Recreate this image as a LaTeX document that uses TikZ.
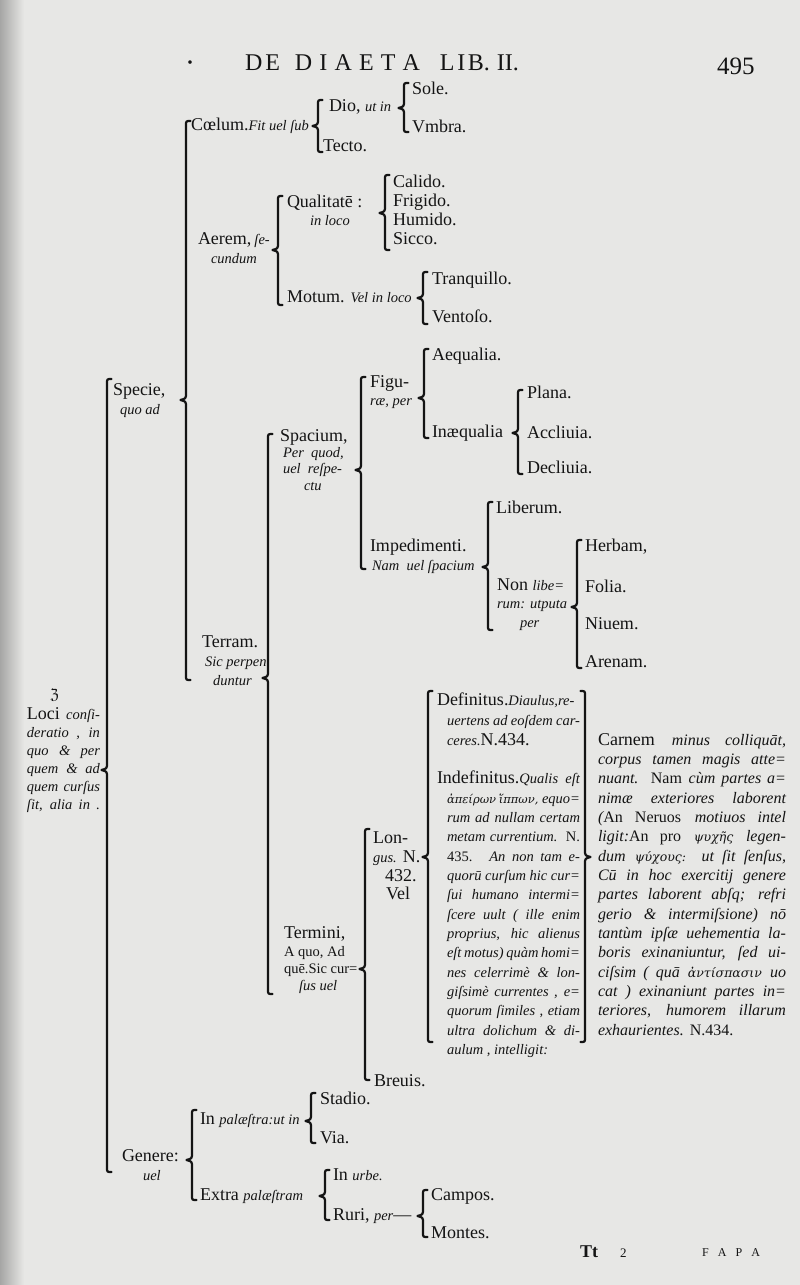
\documentclass[tikz,border=0pt]{standalone}
\usepackage{fontspec}
\setmainfont{Liberation Serif}
\newfontfamily\grk{DejaVu Serif}
\newfontfamily\symfont{DejaVu Sans}
\definecolor{ink}{RGB}{20,20,20}
\definecolor{paper}{RGB}{231,231,229}
\newcommand\fR{\fontsize{18}{19}\selectfont}
\newcommand\itx[1]{{\fontsize{14.5}{16}\selectfont\itshape #1}}
\newcommand\rmx[1]{{\fontsize{14.5}{16}\selectfont\upshape #1}}
\newcommand\itc[1]{{\fontsize{16}{17}\selectfont\itshape #1}}
\newcommand\rmc[1]{{\fontsize{16}{17}\selectfont\upshape #1}}
\newcommand\gk[1]{{\grk\itshape\fontsize{11.5}{14}\selectfont #1}}
\newcommand\gkc[1]{{\grk\itshape\fontsize{12.5}{14}\selectfont #1}}
\newcommand\jl[2]{\makebox[#1pt][s]{#2}}
\newcommand\braceL[4]{\draw[brc] ({#1+4.5},#2) .. controls (#1,#2) .. (#1,{#2+4.5}) -- (#1,{#4-7}) .. controls (#1,{#4-1.5}) .. ({#1-5.5},#4) .. controls (#1,{#4+1.5}) .. (#1,{#4+7}) -- (#1,{#3-4.5}) .. controls (#1,#3) .. ({#1+4.5},#3);}
\newcommand\braceR[4]{\draw[brc] ({#1-4.5},#2) .. controls (#1,#2) .. (#1,{#2+4.5}) -- (#1,{#4-7}) .. controls (#1,{#4-1.5}) .. ({#1+5.5},#4) .. controls (#1,{#4+1.5}) .. (#1,{#4+7}) -- (#1,{#3-4.5}) .. controls (#1,#3) .. ({#1-4.5},#3);}
\tikzset{
  R/.style={anchor=base west,inner sep=0pt,outer sep=0pt,font=\fR,text=ink},
  brc/.style={draw=ink,line width=2.2pt,line cap=round,line join=round}
}
\begin{document}
\begin{tikzpicture}[x=1pt,y=-1pt]
\fill[paper] (0,0) rectangle (800,1285);
\shade[left color=paper!72!black,right color=paper] (0,0) rectangle (24,1285);
\path[use as bounding box] (0,0) rectangle (800,1285);

% header
\node[R,font={\fontsize{30}{30}\selectfont}] (hdot) at (185,72) {·};
\node[R,font={\fontsize{24}{24}\selectfont}] (title) at (245,70) {\makebox[35pt][s]{D\hfil E}\hspace{15pt}\makebox[125pt][s]{D\hfil I\hfil A\hfil E\hfil T\hfil A}\hspace{20pt}\makebox[50pt][s]{L\hfil I\hfil B.}\hspace{7pt}\makebox[18pt][s]{I\hfil I.}};
\node[R,font={\fontsize{25}{26}\selectfont}] (pg) at (717,74) {495};

% Coelum
\node[R] (sole) at (412,94) {Sole.};
\node[R] (dio) at (329,111) {Dio, \itx{ut in}};
\node[R] (coelum) at (191,130) {Cœlum.\itx{Fit uel ſub}};
\node[R] (vmbra) at (412,132) {Vmbra.};
\node[R] (tecto) at (323,151) {Tecto.};
\braceL{404}{83}{132}{108}
\braceL{318}{100}{152}{126}

% Specie brace
\braceL{186}{121}{680}{400}

% Aerem
\node[R] (aerem) at (198,244) {Aerem,\,\itx{ſe-}};
\node[R] (cundum) at (211,263) {\itx{cundum}};
\braceL{278}{196}{305}{250}
\node[R] (qual) at (287,207) {Qualitatē :};
\node[R] (inloco) at (310,225) {\itx{in loco}};
\braceL{385}{175}{250}{213}
\node[R] (calido) at (393,187) {Calido.};
\node[R] (frigido) at (393,206) {Frigido.};
\node[R] (humido) at (393,225) {Humido.};
\node[R] (sicco) at (393,244) {Sicco.};
\node[R] (motum) at (287,302) {Motum. \itx{Vel in loco}};
\braceL{423}{272}{324}{298}
\node[R] (tranq) at (432,284) {Tranquillo.};
\node[R] (vento) at (432,322) {Ventoſo.};

% Specie + root
\node[R] (specie) at (113,395) {Specie,};
\node[R] (quoad) at (120,414) {\itx{quo ad}};
\braceL{107}{379}{1172}{770}

% Terram
\node[R] (terram) at (202,647) {Terram.};
\node[R] (sicperpen) at (205,666) {\itx{Sic perpen}};
\node[R] (duntur) at (213,685) {\itx{duntur}};
\braceL{268}{434}{994}{678}

% Spacium
\node[R] (spacium) at (280,441) {Spacium,};
\node[R] (perquod) at (283,457) {\itx{Per\ \ quod,}};
\node[R] (uelrespe) at (283,473) {\itx{uel\ \ reſpe-}};
\node[R] (ctu) at (304,490) {\itx{ctu}};
\braceL{361}{377}{569}{470}
\node[R] (figu) at (370,387) {Figu-};
\node[R] (raeper) at (370,405) {\itx{ræ, per}};
\braceL{424}{349}{438}{398}
\node[R] (aequalia) at (432,360) {Aequalia.};
\node[R] (inaeq) at (432,437) {Inæqualia};
\braceL{518}{390}{474}{433}
\node[R] (plana) at (527,398) {Plana.};
\node[R] (accl) at (527,438) {Accliuia.};
\node[R] (decl) at (527,473) {Decliuia.};

% Impedimenti
\node[R] (imped) at (370,551) {Impedimenti.};
\node[R] (namuel) at (372,570) {\itx{Nam\ \ uel ſpacium}};
\braceL{488}{502}{630}{567}
\node[R] (liberum) at (496,513) {Liberum.};
\node[R] (nonlibe) at (497,590) {Non \itx{libe=}};
\node[R] (rumut) at (497,608) {\itx{rum: utputa}};
\node[R] (per) at (520,627) {\itx{per}};
\braceL{577}{540}{668}{607}
\node[R] (herbam) at (585,551) {Herbam,};
\node[R] (folia) at (585,592) {Folia.};
\node[R] (niuem) at (585,629) {Niuem.};
\node[R] (arenam) at (585,667) {Arenam.};

% Loci
\node[R,font={\symfont\fontsize{14}{16}\selectfont}] (sym) at (50,699) {ℨ};
\node[R] (loci1) at (27,719) {\jl{73}{Loci \itx{conſi-}}};
\node[R] (loci2) at (27,737) {\jl{73}{\itx{deratio , in}}};
\node[R] (loci3) at (27,755) {\jl{73}{\itx{quo \& per}}};
\node[R] (loci4) at (27,773) {\jl{73}{\itx{quem \& ad}}};
\node[R] (loci5) at (27,791) {\jl{73}{\itx{quem curſus}}};
\node[R] (loci6) at (27,809) {\jl{73}{\itx{ſit, alia in .}}};

% Termini
\node[R] (termini) at (284,938) {Termini,};
\node[R] (aquo) at (284,956) {\rmx{A quo, Ad}};
\node[R] (que) at (284,973) {\rmx{quē.Sic cur=}};
\node[R] (susuel) at (299,990) {\itx{ſus uel}};
\braceL{365}{829}{1080}{969}
\node[R] (lon) at (373,843) {Lon-};
\node[R] (gus) at (373,862) {\itx{gus.} N.};
\node[R] (n432) at (385,881) {432.};
\node[R] (vel) at (386,899) {Vel};
\node[R] (breuis) at (374,1086) {Breuis.};

% Definitus column
\braceL{428}{691}{1042}{857}
\braceR{585}{691}{1042}{857}
\node[R] (d1) at (437,705) {\jl{143}{Definitus.\itx{Diaulus,re-}}};
\node[R] (d2) at (447,725) {\jl{133}{\itx{uertens ad eoſdem car-}}};
\node[R] (d3) at (447,745) {\itx{ceres.}N.434.};
\node[R] (i1) at (437,783.7) {\jl{143}{Indefinitus.\itx{Qualis eſt}}};
\node[R] (i2) at (447,803.05) {\jl{133}{\gk{ἀπείρων ἵππων,} \itx{equo=}}};
\node[R] (i3) at (447,822.4) {\jl{133}{\itx{rum ad nullam certam}}};
\node[R] (i4) at (447,841.75) {\jl{133}{\itx{metam currentium.} \rmx{N.}}};
\node[R] (i5) at (447,861.1) {\jl{133}{\rmx{435.} \itx{An non tam e-}}};
\node[R] (i6) at (447,880.45) {\jl{133}{\itx{quorū curſum hic cur=}}};
\node[R] (i7) at (447,899.8) {\jl{133}{\itx{ſui humano intermi=}}};
\node[R] (i8) at (447,919.15) {\jl{133}{\itx{ſcere uult ( ille enim}}};
\node[R] (i9) at (447,938.5) {\jl{133}{\itx{proprius, hic alienus}}};
\node[R] (i10) at (447,957.85) {\jl{133}{\itx{eſt motus) quàm homi=}}};
\node[R] (i11) at (447,977.2) {\jl{133}{\itx{nes celerrimè \& lon-}}};
\node[R] (i12) at (447,996.55) {\jl{133}{\itx{giſsimè currentes , e=}}};
\node[R] (i13) at (447,1015.9) {\jl{133}{\itx{quorum ſimiles , etiam}}};
\node[R] (i14) at (447,1035.25) {\jl{133}{\itx{ultra dolichum \& di-}}};
\node[R] (i15) at (447,1054.6) {\itx{aulum , intelligit:}};

% Carnem column
\node[R] (c1) at (598,745) {\jl{188}{Carnem \itc{minus colliquāt,}}};
\node[R] (c2) at (598,764.35) {\jl{188}{\itc{corpus tamen magis atte=}}};
\node[R] (c3) at (598,783.7) {\jl{188}{\itc{nuant.} \rmc{Nam} \itc{cùm partes a=}}};
\node[R] (c4) at (598,803.05) {\jl{188}{\itc{nimæ exteriores laborent}}};
\node[R] (c5) at (598,822.4) {\jl{188}{\itc{(}\rmc{An Neruos} \itc{motiuos intel}}};
\node[R] (c6) at (598,841.75) {\jl{188}{\itc{ligit:}\rmc{An pro} \gkc{ψυχῆς} \itc{legen-}}};
\node[R] (c7) at (598,861.1) {\jl{188}{\itc{dum} \gkc{ψύχους:} \itc{ut ſit ſenſus,}}};
\node[R] (c8) at (598,880.45) {\jl{188}{\itc{Cū in hoc exercitij genere}}};
\node[R] (c9) at (598,899.8) {\jl{188}{\itc{partes laborent abſq; refri}}};
\node[R] (c10) at (598,919.15) {\jl{188}{\itc{gerio \& intermiſsione) nō}}};
\node[R] (c11) at (598,938.5) {\jl{188}{\itc{tantùm ipſæ uehementia la-}}};
\node[R] (c12) at (598,957.85) {\jl{188}{\itc{boris exinaniuntur, ſed ui-}}};
\node[R] (c13) at (598,977.2) {\jl{188}{\itc{ciſsim ( quā} \gkc{ἀντίσπασιν} \itc{uo}}};
\node[R] (c14) at (598,996.55) {\jl{188}{\itc{cat ) exinaniunt partes in=}}};
\node[R] (c15) at (598,1015.9) {\jl{188}{\itc{teriores, humorem illarum}}};
\node[R] (c16) at (598,1035.25) {\itc{exhaurientes.} \rmc{N.434.}};

% Genere
\node[R] (genere) at (122,1161) {Genere:};
\node[R] (uel) at (143,1180) {\itx{uel}};
\braceL{192}{1110}{1200}{1160}
\node[R] (inpal) at (200,1124) {In \itx{palæſtra:ut in}};
\braceL{311}{1093}{1143}{1121}
\node[R] (stadio) at (320,1104) {Stadio.};
\node[R] (via) at (320,1143) {Via.};
\node[R] (extra) at (200,1200) {Extra \itx{palæſtram}};
\braceL{325}{1170}{1220}{1196}
\node[R] (inurbe) at (333,1180) {In \itx{urbe.}};
\node[R] (ruri) at (333,1220) {Ruri, \itx{per}—};
\braceL{423}{1190}{1237}{1216}
\node[R] (campos) at (431,1200) {Campos.};
\node[R] (montes) at (431,1238) {Montes.};

% footer
\node[R,font={\fontsize{18}{20}\selectfont\bfseries}] (tt) at (580,1257) {Tt};
\node[R,font={\fontsize{13}{14}\selectfont}] (two) at (620,1257) {2};
\node[R,font={\fontsize{12}{13}\selectfont}] (fapa) at (702,1256) {\makebox[58pt][s]{F\hfil A\hfil P\hfil A}};
\end{tikzpicture}
\end{document}
